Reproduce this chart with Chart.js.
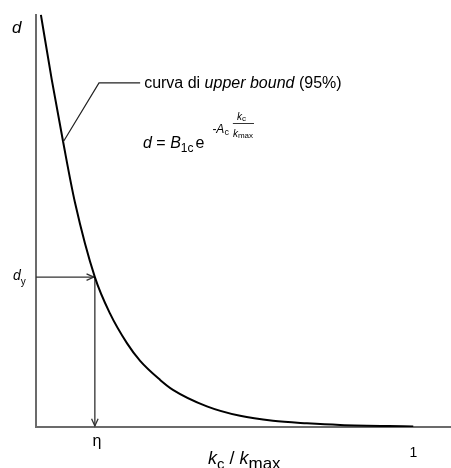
<!DOCTYPE html>
<html>
<head>
<meta charset="utf-8">
<script src="https://cdn.jsdelivr.net/npm/chart.js@4.4.1/dist/chart.umd.min.js"></script>
<style>
  body { margin: 0; background: #fff; }
  #wrap { width: 451px; height: 468px; }
</style>
</head>
<body>
<div id="wrap"><canvas id="curve"></canvas></div>
<script>
// upper bound curve, d against kc/kmax
var kRatio = [0.013, 0.042, 0.072, 0.103, 0.156, 0.196, 0.241, 0.276, 0.329, 0.363, 0.453, 0.541, 0.628, 0.718, 0.806, 1.0];
var dValues = [0.998, 0.840, 0.690, 0.545, 0.363, 0.275, 0.203, 0.160, 0.114, 0.090, 0.050, 0.027, 0.015, 0.009, 0.005, 0.0015];

// marked point on the curve (eta, d_y)
var eta = 0.156;
var dy = 0.363;
var tickValues = [eta, 1];
var tickLabels = ['η', '1'];

var FONT = "'Liberation Sans', Arial, sans-serif";

function setFont(ctx, size, italic){
    ctx.font = (italic ? 'italic ' : '') + size + 'px ' + FONT;
}

// draws a row of text pieces, each with its own size / style / vertical shift
function drawRuns(ctx, x, y, runs){
    runs.forEach(r => {
        setFont(ctx, r.size, r.italic);
        ctx.fillText(r.t, x + (r.dx || 0), y + (r.dy || 0));
        x += ctx.measureText(r.t).width + (r.dx || 0);
    });
    return x;
}

function arrowHead(ctx, x, y, ang){
    var len = 8, spread = 0.42;
    ctx.beginPath();
    ctx.moveTo(x - len * Math.cos(ang - spread), y - len * Math.sin(ang - spread));
    ctx.lineTo(x, y);
    ctx.lineTo(x - len * Math.cos(ang + spread), y - len * Math.sin(ang + spread));
    ctx.stroke();
}

var decorations = {
    id: 'decorations',
    beforeDatasetsDraw(chart){
        var ctx = chart.ctx, a = chart.chartArea;
        var xs = chart.scales.x, ys = chart.scales.y;
        ctx.save();
        // axes
        ctx.strokeStyle = '#6b6b6b';
        ctx.lineWidth = 2;
        ctx.beginPath();
        ctx.moveTo(a.left, a.top);
        ctx.lineTo(a.left, a.bottom);
        ctx.lineTo(a.right, a.bottom);
        ctx.stroke();

        // guide arrows to the marked point
        var px = xs.getPixelForValue(eta), py = ys.getPixelForValue(dy);
        ctx.strokeStyle = '#333';
        ctx.lineWidth = 1.3;
        ctx.beginPath();
        ctx.moveTo(a.left, py);
        ctx.lineTo(px - 1, py);
        ctx.moveTo(px, py);
        ctx.lineTo(px, a.bottom - 1);
        ctx.stroke();
        arrowHead(ctx, px - 1, py, 0);
        arrowHead(ctx, px, a.bottom - 1, Math.PI / 2);
        ctx.restore();
    },
    afterDatasetsDraw(chart){
        var ctx = chart.ctx, a = chart.chartArea;
        var xs = chart.scales.x, ys = chart.scales.y;
        ctx.save();
        ctx.fillStyle = '#000';
        ctx.textBaseline = 'alphabetic';

        // leader line to the curve label
        var x0 = xs.getPixelForValue(0.072), y0 = ys.getPixelForValue(0.690);
        var x1 = xs.getPixelForValue(0.167), y1 = ys.getPixelForValue(0.833);
        var x2 = xs.getPixelForValue(0.276);
        ctx.strokeStyle = '#222';
        ctx.lineWidth = 1.2;
        ctx.beginPath();
        ctx.moveTo(x0, y0);
        ctx.lineTo(x1, y1);
        ctx.lineTo(x2, y1);
        ctx.stroke();

        drawRuns(ctx, x2 + 4, y1 + 5, [
            {t: 'curva di ', size: 16},
            {t: 'upper bound', size: 16, italic: true},
            {t: ' (95%)', size: 16}
        ]);

        // formula d = B1c e^(-Ac kc/kmax)
        var fx = 143, fy = 148;
        var ex = drawRuns(ctx, fx, fy, [
            {t: 'd', size: 16, italic: true},
            {t: ' = ', size: 16},
            {t: 'B', size: 16, italic: true},
            {t: '1c', size: 12, dy: 4},
            {t: 'e', size: 16, dx: 2}
        ]);
        var fr = drawRuns(ctx, ex + 8, fy - 15, [
            {t: '-', size: 12},
            {t: 'A', size: 12, italic: true},
            {t: 'c', size: 9, dy: 2}
        ]);
        var fracX = fr + 4;
        var topEnd = drawRuns(ctx, fracX + 4, fy - 28, [
            {t: 'k', size: 10, italic: true},
            {t: 'c', size: 8, dy: 1}
        ]);
        var botEnd = drawRuns(ctx, fracX, fy - 11, [
            {t: 'k', size: 10, italic: true},
            {t: 'max', size: 8, dy: 1}
        ]);
        ctx.strokeStyle = '#000';
        ctx.lineWidth = 0.8;
        ctx.beginPath();
        ctx.moveTo(fracX, fy - 24.5);
        ctx.lineTo(Math.max(topEnd, botEnd) + 1, fy - 24.5);
        ctx.stroke();

        // axis names
        drawRuns(ctx, 12, a.top + 19, [{t: 'd', size: 17, italic: true}]);
        var yDy = ys.getPixelForValue(dy);
        drawRuns(ctx, 13, yDy + 3, [
            {t: 'd', size: 14, italic: true},
            {t: 'y', size: 10, dy: 5}
        ]);
        drawRuns(ctx, 208, 464, [
            {t: 'k', size: 18, italic: true},
            {t: 'c', size: 15, dy: 5},
            {t: ' / ', size: 18},
            {t: 'k', size: 18, italic: true},
            {t: 'max', size: 17, dy: 5}
        ]);

        // tick labels
        ctx.textAlign = 'center';
        setFont(ctx, 16, false);
        ctx.fillText(tickLabels[0], xs.getPixelForValue(tickValues[0]) + 2, 446);
        setFont(ctx, 14, false);
        ctx.fillText(tickLabels[1], xs.getPixelForValue(tickValues[1]), 457);
        ctx.restore();
    }
};

var chart = new Chart(document.getElementById('curve'), {
    type: 'line',
    data: {
        labels: kRatio,
        datasets: [{
            data: kRatio.map((k, i) => ({x: k, y: dValues[i]})),
            borderColor: '#000',
            borderWidth: 2,
            pointRadius: 0,
            cubicInterpolationMode: 'monotone',
            fill: false
        }]
    },
    options: {
        responsive: true,
        maintainAspectRatio: false,
        animation: false,
        layout: { padding: { left: 36, top: 14, right: 0, bottom: 41 } },
        plugins: { legend: { display: false }, tooltip: { enabled: false } },
        scales: {
            x: { type: 'linear', min: 0, max: 1.1, display: false },
            y: { type: 'linear', min: 0, max: 1, display: false }
        }
    },
    plugins: [decorations]
});
</script>
</body>
</html>
